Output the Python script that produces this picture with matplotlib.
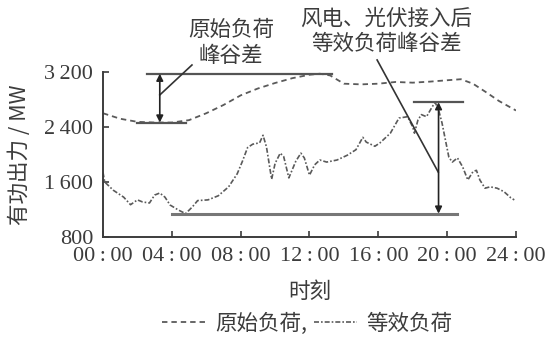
import matplotlib
matplotlib.use("Agg")
import matplotlib.pyplot as plt

# Original load (dashed), MW
orig_hours = [0, 1, 2, 3, 4, 5, 6, 7, 8, 9, 10, 11, 12, 12.6, 13.2, 14, 15, 16, 17, 18,
              19, 20, 20.8, 21.5, 22.3, 23, 24]
orig_mw = [2600, 2520, 2475, 2465, 2465, 2500, 2600, 2720, 2860, 2960, 3040, 3110, 3160,
           3175, 3150, 3030, 3020, 3030, 3055, 3045, 3060, 3080, 3095, 3030, 2900, 2780, 2640]

# Equivalent load after wind/PV integration (dash-dot), MW
eq_hours = [0.0, 0.1, 0.6, 1.2, 1.6, 2.0, 2.3, 2.7, 3.0, 3.3, 3.6, 3.9, 4.4, 4.8, 5.2, 5.5,
            6.1, 6.7, 7.3, 7.8, 8.1, 8.4, 8.7, 9.1, 9.3, 9.5, 9.8, 10.0, 10.3, 10.5, 10.8,
            11.2, 11.5, 11.7, 12.0, 12.3, 12.6, 13.0, 13.6, 14.2, 14.7, 15.1, 15.3, 15.8,
            16.1, 16.7, 17.2, 17.7, 18.0, 18.1, 18.3, 18.5, 18.8, 19.1, 19.3, 19.5, 19.7,
            19.9, 20.1, 20.3, 20.6, 20.9, 21.2, 21.5, 21.7, 21.9, 22.2, 22.5, 22.9, 23.3,
            23.7, 23.9]
eq_mw = [1740, 1600, 1480, 1380, 1270, 1340, 1310, 1295, 1410, 1440, 1380, 1265, 1190, 1140,
         1240, 1330, 1340, 1400, 1530, 1720, 1900, 2100, 2150, 2170, 2280, 2110, 1640, 1870,
         2020, 1970, 1660, 1900, 2020, 1950, 1700, 1850, 1920, 1890, 1920, 1990, 2070, 2250,
         2180, 2120, 2170, 2310, 2530, 2550, 2400, 2310, 2500, 2580, 2550, 2680, 2760, 2650,
         2460, 2210, 1960, 1890, 1950, 1820, 1630, 1750, 1770, 1630, 1510, 1530, 1510, 1460,
         1370, 1340]

x_ticks = [0, 4, 8, 12, 16, 20, 24]
x_tick_labels = ["00\u2009:\u200900", "04\u2009:\u200900", "08\u2009:\u200900",
                 "12\u2009:\u200900", "16\u2009:\u200900", "20\u2009:\u200900",
                 "24\u2009:\u200900"]
y_ticks = [800, 1600, 2400, 3200]
y_tick_labels = ["800", "1\u2009600", "2\u2009400", "3\u2009200"]

CJK = ["Noto Sans CJK SC", "DejaVu Sans"]
NUM = ["Liberation Serif", "DejaVu Serif"]
INK = "#3c3c3c"
LINE = "#5a5a5a"

fig = plt.figure(figsize=(5.47, 3.45), dpi=100)
ax = fig.add_axes([0.1883, 0.3130, 0.7550, 0.4783])

ax.plot(orig_hours, orig_mw, color=LINE, lw=1.3, linestyle=(0, (3, 2.2)), label="原始负荷,")
ax.plot(eq_hours, eq_mw, color=LINE, lw=1.2, linestyle=(0, (3, 1.2, 1, 1.2)), label="等效负荷")

ax.set_xlim(0, 24)
ax.set_ylim(800, 3200)
ax.set_xticks(x_ticks)
ax.set_xticklabels(x_tick_labels, family=NUM, fontsize=16, color=INK)
ax.set_yticks(y_ticks)
ax.set_yticklabels(y_tick_labels, family=NUM, fontsize=16, color=INK)
ax.tick_params(direction="in", length=4, width=1.2, color=INK, pad=7)
for side in ("top", "right"):
    ax.spines[side].set_visible(False)
for side in ("left", "bottom"):
    ax.spines[side].set_color(INK)
    ax.spines[side].set_linewidth(1.4)

# Peak/valley reference lines
orig_peak, orig_valley = max(orig_mw), min(orig_mw)
eq_peak, eq_valley = max(eq_mw), min(eq_mw)
ref_kw = dict(color="#555555", lw=1.6, clip_on=False)
ax.plot([2.56, 13.3], [orig_peak, orig_peak], **ref_kw)
ax.plot([2.0, 4.8], [orig_valley, orig_valley], **ref_kw)
ax.plot([4.0, 20.6], [eq_valley, eq_valley], color="#777777", lw=2.2, clip_on=False)
ax.plot([18.1, 20.9], [eq_peak, eq_peak], **ref_kw)

arrow_kw = dict(arrowstyle="<|-|>", color="#222222", lw=1.2, mutation_scale=10,
                shrinkA=0, shrinkB=0)
ax.annotate("", xy=(3.3, orig_peak), xytext=(3.3, orig_valley), arrowprops=arrow_kw,
            annotation_clip=False)
ax.annotate("", xy=(19.5, eq_peak), xytext=(19.5, eq_valley), arrowprops=arrow_kw,
            annotation_clip=False)

# Leader lines to the captions
ax.plot([3.3, 5.17], [2866, 3302], color="#333333", lw=1.2, clip_on=False)
ax.plot([15.93, 19.48], [3375, 1745], color="#333333", lw=1.2, clip_on=False)

fig.text(0.422, 0.875, "原始负荷\n峰谷差", family=CJK, fontsize=15.5, color=INK,
         ha="center", va="center", linespacing=1.25)
fig.text(0.706, 0.909, "风电、光伏接入后\n等效负荷峰谷差", family=CJK, fontsize=15.5,
         color=INK, ha="center", va="center", linespacing=1.2)

fig.text(0.037, 0.551, "有功出力 / MW", family=CJK, fontsize=15.5, color=INK,
         rotation=90, ha="center", va="center")
fig.text(0.566, 0.154, "时刻", family=CJK, fontsize=15.5, color=INK, ha="center",
         va="center")

leg = fig.legend(loc="center", bbox_to_anchor=(0.562, 0.061), ncol=2, frameon=False,
                 prop={"family": CJK, "size": 15.5}, handlelength=2.0,
                 handletextpad=0.45, columnspacing=0.3, borderpad=0)
for t in leg.get_texts():
    t.set_color(INK)

fig.savefig("out.png", dpi=100)
